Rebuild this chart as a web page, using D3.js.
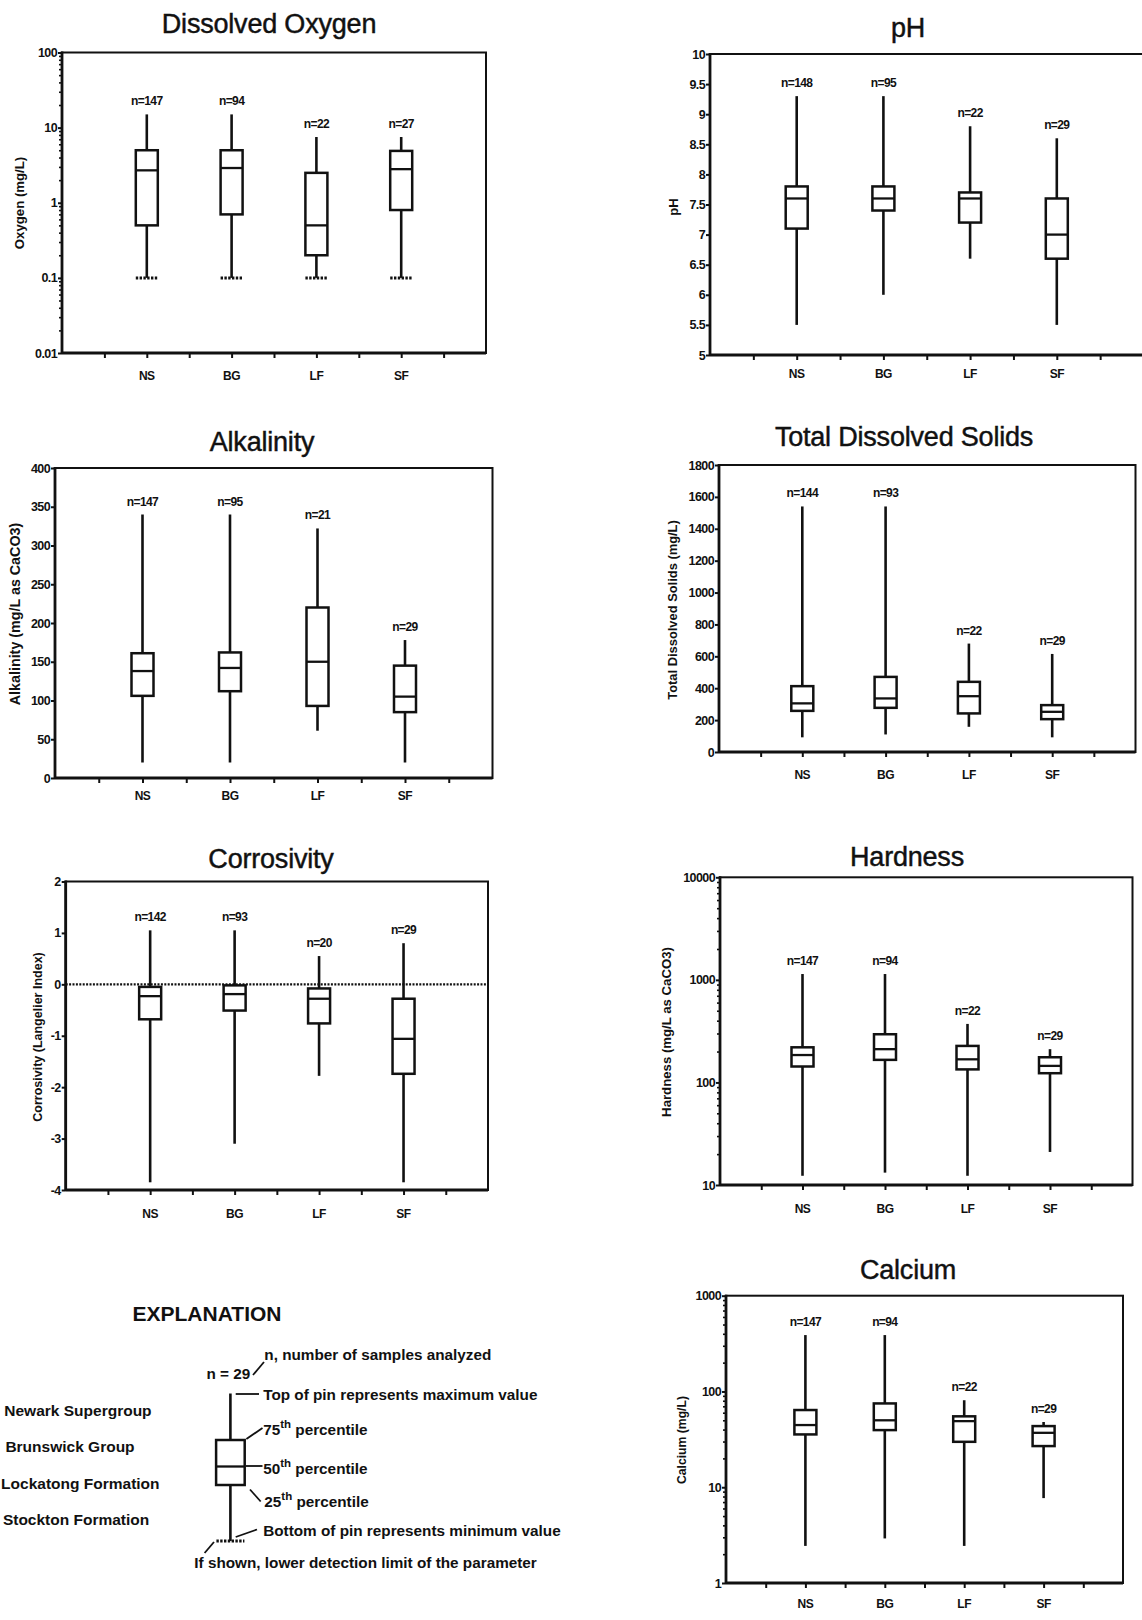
<!DOCTYPE html>
<html><head><meta charset="utf-8">
<script src="https://cdn.jsdelivr.net/npm/d3@7/dist/d3.min.js"></script>
<style>
body{margin:0;background:#fff;}
svg{display:block;font-family:"Liberation Sans",Arial,Helvetica,sans-serif;}
</style></head><body>
<svg id="chart" width="1142" height="1620"></svg>
<script>
// ---------------- DATA ----------------
const categories = ["NS","BG","LF","SF"];
const formationNames = ["Newark Supergroup","Brunswick Group","Lockatong Formation","Stockton Formation"];

// Dissolved oxygen (mg/L)
const oxygenN      = [147, 94, 22, 27];
const oxygenMax    = [15, 15, 7.5, 7.5];
const oxygenQ3     = [5.0, 5.0, 2.5, 4.9];
const oxygenMedian = [2.7, 2.9, 0.5, 2.8];
const oxygenQ1     = [0.5, 0.7, 0.2, 0.8];
const oxygenMin    = [0.1, 0.1, 0.1, 0.1];
const oxygenAtDetectionLimit = [true, true, true, true];
const oxygenTicks  = [0.01, 0.1, 1, 10, 100];

// pH
const phN      = [148, 95, 22, 29];
const phMax    = [9.3, 9.3, 8.8, 8.6];
const phQ3     = [7.8, 7.8, 7.7, 7.6];
const phMedian = [7.6, 7.6, 7.6, 7.0];
const phQ1     = [7.1, 7.4, 7.2, 6.6];
const phMin    = [5.5, 6.0, 6.6, 5.5];
const phTicks  = [5, 5.5, 6, 6.5, 7, 7.5, 8, 8.5, 9, 9.5, 10];

// Alkalinity (mg/L as CaCO3)
const alkN      = [147, 95, 21, 29];
const alkMax    = [340, 340, 322, 178];
const alkQ3     = [161, 162, 220, 145];
const alkMedian = [138, 142, 150, 105];
const alkQ1     = [106, 112, 93, 85];
const alkMin    = [20, 20, 61, 20];
const alkTicks  = [0, 50, 100, 150, 200, 250, 300, 350, 400];

// Total dissolved solids (mg/L)
const tdsN      = [144, 93, 22, 29];
const tdsMax    = [1540, 1540, 680, 615];
const tdsQ3     = [413, 471, 440, 294];
const tdsMedian = [305, 336, 350, 252];
const tdsQ1     = [258, 277, 242, 206];
const tdsMin    = [92, 110, 158, 92];
const tdsTicks  = [0, 200, 400, 600, 800, 1000, 1200, 1400, 1600, 1800];

// Corrosivity (Langelier index)
const corrN      = [142, 93, 20, 29];
const corrMax    = [1.05, 1.05, 0.55, 0.8];
const corrQ3     = [-0.05, -0.02, -0.08, -0.28];
const corrMedian = [-0.23, -0.19, -0.28, -1.06];
const corrQ1     = [-0.68, -0.51, -0.76, -1.74];
const corrMin    = [-3.85, -3.1, -1.78, -3.85];
const corrTicks  = [-4, -3, -2, -1, 0, 1, 2];

// Hardness (mg/L as CaCO3)
const hardN      = [147, 94, 22, 29];
const hardMax    = [1140, 1140, 372, 211];
const hardQ3     = [220, 295, 227, 176];
const hardMedian = [185, 211, 168, 145];
const hardQ1     = [143, 166, 134, 123];
const hardMin    = [12.3, 13.2, 12.3, 21];
const hardTicks  = [10, 100, 1000, 10000];

// Calcium (mg/L)
const caN      = [147, 94, 22, 29];
const caMax    = [388, 388, 81, 48];
const caQ3     = [64, 75, 55, 43.5];
const caMedian = [44.6, 50, 49, 37];
const caQ1     = [35.6, 39.5, 29.8, 26.9];
const caMin    = [2.44, 2.92, 2.44, 7.7];
const caTicks  = [1, 10, 100, 1000];

// ---------------- LAYOUT ----------------
const panels = [
  {title:"Dissolved Oxygen", yLabel:"Oxygen (mg/L)", log:true, ticks:oxygenTicks,
   n:oxygenN, max:oxygenMax, q3:oxygenQ3, med:oxygenMedian, q1:oxygenQ1, min:oxygenMin, dl:oxygenAtDetectionLimit,
   L:62, R:486, T:52.5, B:353, tx:269, ty:33, lx:19, ly:203, lsize:13.2, catGap:27},
  {title:"pH", yLabel:"pH", log:false, ticks:phTicks,
   n:phN, max:phMax, q3:phQ3, med:phMedian, q1:phQ1, min:phMin,
   L:710, R:1143.5, T:54, B:355, tx:908, ty:37, lx:673, ly:207, lsize:13, catGap:23},
  {title:"Alkalinity", yLabel:"Alkalinity (mg/L as CaCO3)", log:false, ticks:alkTicks,
   n:alkN, max:alkMax, q3:alkQ3, med:alkMedian, q1:alkQ1, min:alkMin,
   L:55, R:492.5, T:468, B:778, tx:262, ty:450.5, lx:15, ly:614, lsize:14.3, catGap:22},
  {title:"Total Dissolved Solids", yLabel:"Total Dissolved Solids (mg/L)", log:false, ticks:tdsTicks,
   n:tdsN, max:tdsMax, q3:tdsQ3, med:tdsMedian, q1:tdsQ1, min:tdsMin,
   L:719, R:1135.5, T:465, B:752, tx:904, ty:446, lx:672.5, ly:610, lsize:12.9, catGap:27},
  {title:"Corrosivity", yLabel:"Corrosivity (Langelier Index)", log:false, ticks:corrTicks, zeroLine:true,
   n:corrN, max:corrMax, q3:corrQ3, med:corrMedian, q1:corrQ1, min:corrMin,
   L:65.7, R:488, T:881.5, B:1190, tx:271, ty:868, lx:37.5, ly:1037, lsize:12.5, catGap:28},
  {title:"Hardness", yLabel:"Hardness (mg/L as CaCO3)", log:true, ticks:hardTicks,
   n:hardN, max:hardMax, q3:hardQ3, med:hardMedian, q1:hardQ1, min:hardMin,
   L:720, R:1132.5, T:877.3, B:1185, tx:907, ty:865.5, lx:666.5, ly:1032, lsize:13.2, catGap:28},
  {title:"Calcium", yLabel:"Calcium (mg/L)", log:true, ticks:caTicks,
   n:caN, max:caMax, q3:caQ3, med:caMedian, q1:caQ1, min:caMin,
   L:726, R:1123, T:1295.7, B:1583, tx:908, ty:1279, lx:681.5, ly:1440, lsize:12.2, catGap:25}
];

const svg = d3.select("#chart");
const INK = "#111";
const BOXW = 22;

function fmt(v){ return String(v); }

function drawPanel(p){
  const g = svg.append("g");
  const x = d3.scaleLinear().domain([0, categories.length + 1]).range([p.L, p.R]);
  const dom = [p.ticks[0], p.ticks[p.ticks.length-1]];
  const y = (p.log ? d3.scaleLog() : d3.scaleLinear()).domain(dom).range([p.B, p.T]);

  // title
  g.append("text").attr("x", p.tx).attr("y", p.ty).attr("text-anchor","middle")
    .attr("font-size", 27).attr("fill", INK).attr("stroke", INK).attr("stroke-width", 0.45)
    .attr("letter-spacing", -0.2).text(p.title);

  // y axis label
  g.append("text").attr("transform", `translate(${p.lx},${p.ly}) rotate(-90)`)
    .attr("text-anchor","middle").attr("dominant-baseline","central")
    .attr("font-size", p.lsize).attr("font-weight","bold").attr("fill", INK).text(p.yLabel);

  // minor log ticks
  if (p.log){
    const minor = [];
    for (let i = 0; i < p.ticks.length - 1; i++)
      for (let k = 2; k <= 9; k++) minor.push(p.ticks[i] * k);
    const am = g.append("g").attr("transform", `translate(${p.L},0)`)
      .call(d3.axisLeft(y).tickValues(minor).tickFormat("").tickSize(3).tickSizeOuter(0));
    am.select(".domain").remove();
    am.selectAll("line").attr("stroke", INK).attr("stroke-width", 1.6);
  }
  // major y ticks
  const ay = g.append("g").attr("transform", `translate(${p.L},0)`)
    .call(d3.axisLeft(y).tickValues(p.ticks).tickFormat(fmt).tickSize(4).tickPadding(1).tickSizeOuter(0));
  ay.select(".domain").remove();
  ay.selectAll("line").attr("stroke", INK).attr("stroke-width", 2);
  ay.selectAll("text").attr("font-size", 12.5).attr("font-weight","bold").attr("fill", INK)
    .attr("font-family",'"Liberation Sans",Arial,sans-serif').attr("letter-spacing",-0.6);

  // x ticks every half slot
  const xt = d3.range(0.5, categories.length + 0.51, 0.5);
  const ax = g.append("g").attr("transform", `translate(0,${p.B})`)
    .call(d3.axisBottom(x).tickValues(xt).tickFormat("").tickSize(5).tickSizeOuter(0));
  ax.select(".domain").remove();
  ax.selectAll("line").attr("stroke", INK).attr("stroke-width", 2);

  // category labels
  g.selectAll(".cat").data(categories).enter().append("text")
    .attr("x", (d,i) => x(i+1)).attr("y", p.B + p.catGap)
    .attr("text-anchor","middle").attr("font-size", 12).attr("font-weight","bold")
    .attr("fill", INK).attr("letter-spacing",-0.5).text(d => d);

  // frame
  g.append("rect").attr("x", p.L).attr("y", p.T).attr("width", p.R - p.L).attr("height", p.B - p.T)
    .attr("fill","none").attr("stroke", INK).attr("stroke-width", 2);
  g.append("line").attr("x1", p.L).attr("x2", p.L).attr("y1", p.T - 1).attr("y2", p.B + 1)
    .attr("stroke", INK).attr("stroke-width", 2.8);
  g.append("line").attr("x1", p.L).attr("x2", p.R).attr("y1", p.B).attr("y2", p.B)
    .attr("stroke", INK).attr("stroke-width", 2.8);

  if (p.zeroLine){
    g.append("line").attr("x1", p.L).attr("x2", p.R).attr("y1", y(0)).attr("y2", y(0))
      .attr("stroke", INK).attr("stroke-width", 2.2).attr("stroke-dasharray","2,1.4");
  }

  const rows = categories.map((c,i) => ({c, i, n:p.n[i], max:p.max[i], q3:p.q3[i], med:p.med[i], q1:p.q1[i], min:p.min[i], dl: p.dl ? p.dl[i] : false}));
  const b = g.selectAll(".box").data(rows).enter().append("g");
  b.append("line").attr("x1", d => x(d.i+1)).attr("x2", d => x(d.i+1))
    .attr("y1", d => y(d.max)).attr("y2", d => y(d.min))
    .attr("stroke", INK).attr("stroke-width", 2.6);
  b.append("rect").attr("x", d => x(d.i+1) - BOXW/2).attr("width", BOXW)
    .attr("y", d => y(d.q3)).attr("height", d => y(d.q1) - y(d.q3))
    .attr("fill","#fff").attr("stroke", INK).attr("stroke-width", 2.5);
  b.append("line").attr("x1", d => x(d.i+1) - BOXW/2).attr("x2", d => x(d.i+1) + BOXW/2)
    .attr("y1", d => y(d.med)).attr("y2", d => y(d.med))
    .attr("stroke", INK).attr("stroke-width", 2.3);
  b.filter(d => d.dl).append("line")
    .attr("x1", d => x(d.i+1) - BOXW/2).attr("x2", d => x(d.i+1) + BOXW/2)
    .attr("y1", d => y(d.min)).attr("y2", d => y(d.min))
    .attr("stroke", INK).attr("stroke-width", 3).attr("stroke-dasharray","2.4,1.4");
  b.append("text").attr("x", d => x(d.i+1)).attr("y", d => y(d.max) - 9)
    .attr("text-anchor","middle").attr("font-size", 12).attr("font-weight","bold")
    .attr("letter-spacing",-0.6).attr("fill", INK).text(d => "n=" + d.n);
}

panels.forEach(drawPanel);

// ---------------- EXPLANATION ----------------
const leg = svg.append("g").attr("fill", INK);
leg.append("text").attr("x", 207).attr("y", 1321).attr("text-anchor","middle")
  .attr("font-size", 21).attr("font-weight","bold").text("EXPLANATION");

const formationY = [1415.5, 1452, 1488.5, 1525];
const formationX = [4.3, 5.4, 1.1, 2.9];
leg.selectAll(".fm").data(formationNames).enter().append("text")
  .attr("x", (d,i) => formationX[i]).attr("y", (d,i) => formationY[i])
  .attr("font-size", 15.5).attr("font-weight","bold").text(d => d);

function ltext(x, y, parts){
  const t = leg.append("text").attr("x", x).attr("y", y).attr("font-size", 15.3)
    .attr("font-weight","bold");
  parts.forEach(pt => {
    const s = t.append("tspan").text(pt.t);
    if (pt.sup){ s.attr("font-size", 11.5).attr("dy", -7); }
    if (pt.down){ s.attr("dy", 7); }
  });
  return t;
}
const gx = 230.4;         // legend glyph centre
const lineW = 2.6;
function lline(x1,y1,x2,y2,w){ leg.append("line").attr("x1",x1).attr("y1",y1).attr("x2",x2).attr("y2",y2)
  .attr("stroke", INK).attr("stroke-width", w || 1.8); }

ltext(206.4, 1378.5, [{t:"n = 29"}]);
lline(253, 1375, 264, 1362);
ltext(264.3, 1359.5, [{t:"n, number of samples analyzed"}]);

// glyph
lline(gx, 1393.5, gx, 1541, lineW);
leg.append("rect").attr("x", gx - 14.3).attr("y", 1440).attr("width", 28.6).attr("height", 45)
  .attr("fill","#fff").attr("stroke", INK).attr("stroke-width", 2.5);
lline(gx - 14.3, 1466.5, gx + 14.3, 1466.5, 2.3);
leg.append("line").attr("x1", gx - 14).attr("x2", gx + 14).attr("y1", 1541).attr("y2", 1541)
  .attr("stroke", INK).attr("stroke-width", 3).attr("stroke-dasharray","2.4,1.4");

lline(235.7, 1394, 259, 1394);
ltext(263.2, 1400, [{t:"Top of pin represents maximum value"}]);
lline(246.4, 1439, 262.5, 1428);
ltext(263.2, 1435, [{t:"75"},{t:"th",sup:true},{t:" percentile",down:true}]);
lline(246, 1466, 262.5, 1466);
ltext(263.2, 1474, [{t:"50"},{t:"th",sup:true},{t:" percentile",down:true}]);
lline(250, 1489.5, 260.7, 1501.5);
ltext(264.3, 1507, [{t:"25"},{t:"th",sup:true},{t:" percentile",down:true}]);
lline(235.7, 1537, 257, 1529.5);
ltext(263.2, 1536, [{t:"Bottom of pin represents minimum value"}]);
lline(204.6, 1553, 214, 1542);
ltext(194.3, 1568, [{t:"If shown, lower detection limit of the parameter"}]);
</script>
</body></html>
